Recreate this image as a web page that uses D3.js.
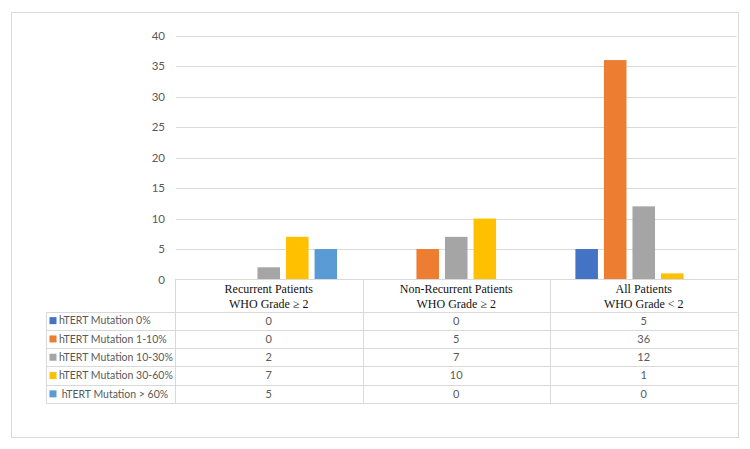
<!DOCTYPE html>
<html>
<head>
<meta charset="utf-8">
<script src="https://d3js.org/d3.v7.min.js"></script>
<style>
  body { margin: 0; background: #fff; }
  svg { display: block; }
</style>
</head>
<body>
<svg id="chart" width="750" height="449"></svg>
<script>
// categories (two header lines each)
const categories = ['Recurrent', 'NonRecurrent', 'All'];
const categoryLines = [
  ['Recurrent Patients', 'WHO Grade \u2265 2'],
  ['Non-Recurrent Patients', 'WHO Grade \u2265 2'],
  ['All Patients', 'WHO Grade < 2']
];
const seriesNames = [
  'hTERT Mutation 0%',
  'hTERT Mutation 1-10%',
  'hTERT Mutation 10-30%',
  'hTERT Mutation 30-60%',
  ' hTERT Mutation > 60%'
];
const seriesColors = ['#4472C4', '#ED7D31', '#A5A5A5', '#FFC000', '#5B9BD5'];
// values[series][category]
const mut0 = [0, 0, 5];
const mut1to10 = [0, 5, 36];
const mut10to30 = [2, 7, 12];
const mut30to60 = [7, 10, 1];
const mutOver60 = [5, 0, 0];
const values = [mut0, mut1to10, mut10to30, mut30to60, mutOver60];
const yTicks = [0, 5, 10, 15, 20, 25, 30, 35, 40];

const svg = d3.select('#chart');

// outer frame
svg.append('rect')
  .attr('x', 11.5).attr('y', 12.5)
  .attr('width', 727).attr('height', 425)
  .attr('fill', '#fff').attr('stroke', '#d9d9d9');

const plotLeft = 175, plotRight = 737.5;
const y = d3.scaleLinear().domain([0, 40]).range([279.5, 35.7]);
const x0 = d3.scaleBand().domain(categories).range([plotLeft, plotRight]);
const x1 = d3.scaleBand().domain(d3.range(seriesNames.length))
  .range([0, x0.bandwidth()]).paddingInner(0.21).paddingOuter(0.89);

// gridlines
svg.append('g').selectAll('line').data(yTicks.filter(d => d > 0)).join('line')
  .attr('x1', plotLeft + 1).attr('x2', plotRight - 1)
  .attr('y1', d => Math.round(y(d)) + 0.5).attr('y2', d => Math.round(y(d)) + 0.5)
  .attr('stroke', '#d9d9d9').attr('stroke-width', 1);

// y axis labels
svg.append('g').selectAll('text').data(yTicks).join('text')
  .attr('x', 165).attr('y', d => y(d))
  .attr('dy', '0.35em').attr('text-anchor', 'end')
  .attr('font-family', 'Lato, "Open Sans", sans-serif')
  .attr('font-size', 11.5).attr('fill', '#595959')
  .text(d => d);

// bars
const groups = svg.append('g').selectAll('g').data(categories).join('g')
  .attr('transform', c => `translate(${x0(c)},0)`);
groups.selectAll('rect')
  .data((c, ci) => values.map((vals, si) => ({ si, v: vals[ci] })))
  .join('rect')
  .attr('x', d => x1(d.si))
  .attr('width', x1.bandwidth())
  .attr('y', d => y(d.v))
  .attr('height', d => y(0) - y(d.v))
  .attr('fill', d => seriesColors[d.si]);

// data table
const tableLeft = 46.5;
const headerTop = 279.5, headerBottom = 311.5;
const rowH = 18.3;
const rowY = d3.range(seriesNames.length + 1).map(i => headerBottom + i * rowH);
const colX = [plotLeft, x0('NonRecurrent'), x0('All'), plotRight];
const tbl = svg.append('g').attr('stroke', '#d9d9d9').attr('stroke-width', 1);

// header horizontal line (axis line)
tbl.append('line')
  .attr('x1', plotLeft).attr('x2', plotRight)
  .attr('y1', headerTop).attr('y2', headerTop);
// row lines
tbl.selectAll('line.row').data(rowY).join('line').attr('class', 'row')
  .attr('x1', tableLeft).attr('x2', plotRight)
  .attr('y1', d => Math.round(d) + 0.5).attr('y2', d => Math.round(d) + 0.5);
// vertical lines
tbl.selectAll('line.col').data(colX).join('line').attr('class', 'col')
  .attr('x1', d => Math.round(d) + 0.5).attr('x2', d => Math.round(d) + 0.5)
  .attr('y1', headerTop).attr('y2', Math.round(rowY[rowY.length - 1]) + 0.5);
tbl.append('line')
  .attr('x1', tableLeft).attr('x2', tableLeft)
  .attr('y1', Math.round(rowY[0]) + 0.5).attr('y2', Math.round(rowY[rowY.length - 1]) + 0.5);

// header text
const header = svg.append('g').selectAll('text').data(categories).join('text')
  .attr('x', c => x0(c) + x0.bandwidth() / 2)
  .attr('text-anchor', 'middle')
  .attr('font-family', '"Liberation Serif", "Times New Roman", serif')
  .attr('font-size', 12).attr('fill', '#111');
header.selectAll('tspan').data((c, i) => categoryLines[i]).join('tspan')
  .attr('x', function () { return this.parentNode.getAttribute('x'); })
  .attr('y', (d, i) => 293 + i * 14.5)
  .text(d => d);

// legend keys and names
const rows = svg.append('g').selectAll('g').data(seriesNames).join('g')
  .attr('transform', (d, i) => `translate(0,${rowY[i] + rowH / 2})`);
rows.append('rect')
  .attr('x', 49.5).attr('y', -3.5).attr('width', 7).attr('height', 7)
  .attr('fill', (d, i) => seriesColors[i]);
rows.append('text')
  .attr('x', 59).attr('dy', '0.35em')
  .attr('font-family', 'Lato, "Open Sans", sans-serif')
  .attr('font-size', 10.5).attr('fill', '#595959')
  .attr('xml:space', 'preserve')
  .text(d => d);
rows.selectAll('text.val')
  .data((d, i) => values[i].map((v, ci) => ({ v, c: categories[ci] })))
  .join('text').attr('class', 'val')
  .attr('x', d => x0(d.c) + x0.bandwidth() / 2)
  .attr('dy', '0.35em').attr('text-anchor', 'middle')
  .attr('font-family', 'Lato, "Open Sans", sans-serif')
  .attr('font-size', 11).attr('fill', '#595959')
  .text(d => d.v);
</script>
</body>
</html>
